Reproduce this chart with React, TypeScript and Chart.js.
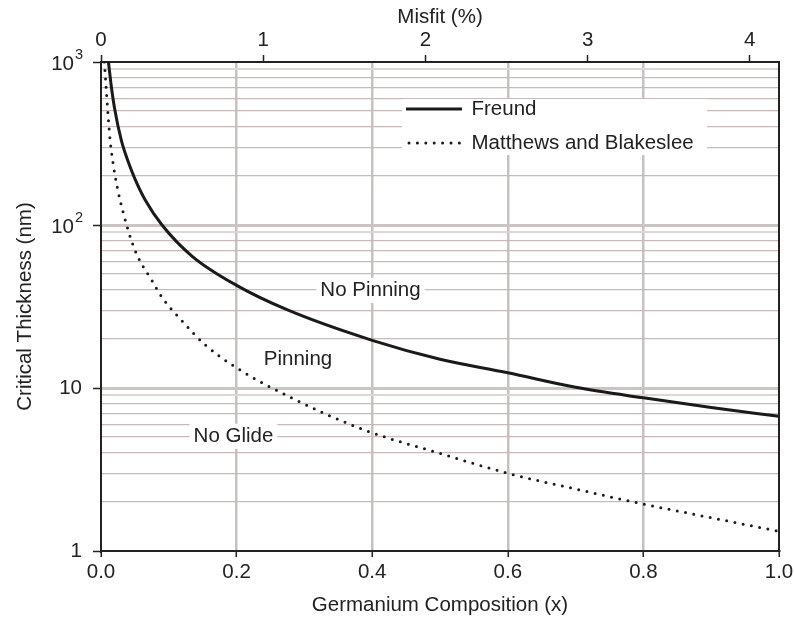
import React, { useEffect, useRef } from "react";
import { Chart, registerables } from "chart.js";

Chart.register(...registerables);

// ---- data ----
const freundX = [0.011, 0.015, 0.02, 0.03, 0.04, 0.05, 0.065, 0.09, 0.135, 0.2, 0.276, 0.4, 0.5, 0.6, 0.7, 0.8, 0.9, 1.0];
const freundY = [1000, 720, 520, 330, 245, 192, 143, 100, 64, 42.6, 30, 19.6, 15.0, 12.4, 10.1, 8.7, 7.6, 6.7];

const mbX = [0.005, 0.0075, 0.011, 0.0135, 0.019, 0.0255, 0.034, 0.045, 0.055, 0.075, 0.09, 0.12, 0.153, 0.2, 0.286, 0.39, 0.5, 0.6, 0.7, 0.8, 0.9, 1.0];
const mbY = [1000, 700, 440, 330, 222, 159, 114, 80, 63, 45.7, 36, 25.7, 18.5, 13.3, 8.5, 5.5, 3.97, 3.0, 2.4, 1.94, 1.6, 1.32];

const seriesNames = ["Freund", "Matthews and Blakeslee"];

const xTicks = [0, 0.2, 0.4, 0.6, 0.8, 1.0];
const misfitTicks = [0, 1, 2, 3, 4];
const misfitMax = 4.18;

const yMajorValues = [1, 10, 100, 1000];
const yLabelBase = ["1", "10", "10", "10"];
const yLabelExp = ["", "", "2", "3"];
const yGridValues: number[] = [];
[1, 10, 100].forEach((d) => {
  for (let m = 1; m <= 9; m++) yGridValues.push(d * m);
});
yGridValues.push(1000);

const regionLabels = ["No Pinning", "Pinning", "No Glide"];
const regionX = [0.3975, 0.2906, 0.1954];
const regionY = [39.7, 14.9, 5.06];
const regionBoxed = [true, false, true];

// ---- styles ----
const FONT = "'Liberation Sans', Arial, Helvetica, sans-serif";
const FS = 20.5;
const TEXT = "#222222";
const AXIS = "#222222";

Chart.defaults.font.family = FONT;
Chart.defaults.font.size = FS;
Chart.defaults.color = TEXT;

const isMajorY = (v: number) => yMajorValues.indexOf(v) >= 0;

const overlayPlugin = {
  id: "overlay",
  beforeDatasetsDraw(chart: any) {
    const { ctx, chartArea: a, scales } = chart;
    const sx = scales.x;
    const sy = scales.y;
    ctx.save();
    ctx.font = `${FS}px ${FONT}`;
    ctx.textBaseline = "middle";
    // region labels
    regionLabels.forEach((t, i) => {
      const px = sx.getPixelForValue(regionX[i]);
      const py = sy.getPixelForValue(regionY[i]);
      const w = ctx.measureText(t).width;
      if (regionBoxed[i]) {
        ctx.fillStyle = "#ffffff";
        ctx.fillRect(px - w / 2 - 4, py - 12.5, w + 8, 25);
      }
      ctx.fillStyle = TEXT;
      ctx.textAlign = "center";
      ctx.fillText(t, px, py);
    });
    // legend
    const lx = a.left + 301;
    const ly = a.top + 37;
    ctx.fillStyle = "#ffffff";
    ctx.fillRect(lx, ly, 305, 56);
    const rows = [ly + 10, ly + 44];
    chart.data.datasets.forEach((ds: any, i: number) => {
      const yy = rows[i];
      ctx.save();
      ctx.strokeStyle = ds.borderColor;
      ctx.lineWidth = ds.borderWidth;
      ctx.lineCap = ds.borderCapStyle || "butt";
      ctx.setLineDash(ds.borderDash || []);
      ctx.beginPath();
      ctx.moveTo(lx + (i === 0 ? 4 : 7), yy);
      ctx.lineTo(lx + 60, yy);
      ctx.stroke();
      ctx.restore();
      ctx.fillStyle = TEXT;
      ctx.textAlign = "left";
      ctx.fillText(seriesNames[i], lx + 69.5, yy);
    });
    ctx.restore();
  },
  afterDraw(chart: any) {
    const { ctx, chartArea: a, scales } = chart;
    ctx.save();
    // right frame
    ctx.strokeStyle = AXIS;
    ctx.lineWidth = 2;
    ctx.beginPath();
    ctx.moveTo(a.right, a.top - 1);
    ctx.lineTo(a.right, a.bottom + 1);
    ctx.stroke();
    // power-of-ten labels with superscript
    const sy = scales.y;
    const rightEdge = a.left - 18;
    yMajorValues.forEach((v, i) => {
      if (!yLabelExp[i]) return;
      const py = sy.getPixelForValue(v) + 2;
      ctx.fillStyle = TEXT;
      ctx.textBaseline = "middle";
      ctx.textAlign = "right";
      ctx.font = `14.5px ${FONT}`;
      const ew = ctx.measureText(yLabelExp[i]).width;
      ctx.fillText(yLabelExp[i], rightEdge, py - 9);
      ctx.font = `${FS}px ${FONT}`;
      ctx.fillText(yLabelBase[i], rightEdge - ew - 1, py);
    });
    ctx.restore();
  },
};

export default function App() {
  const ref = useRef<HTMLCanvasElement>(null);

  useEffect(() => {
    document.body.style.margin = "0";
    const freundData = freundX.map((x, i) => ({ x, y: freundY[i] }));
    const mbData = mbX.map((x, i) => ({ x, y: mbY[i] }));

    const chart = new Chart(ref.current as HTMLCanvasElement, {
      type: "line",
      data: {
        datasets: [
          {
            label: seriesNames[0],
            data: freundData,
            borderColor: "#1a1a1a",
            borderWidth: 3,
            pointRadius: 0,
            fill: false,
            cubicInterpolationMode: "monotone",
            xAxisID: "x",
            yAxisID: "y",
          },
          {
            label: seriesNames[1],
            data: mbData,
            borderColor: "#1a1a1a",
            borderWidth: 3,
            borderDash: [0, 8.4],
            borderCapStyle: "round",
            pointRadius: 0,
            fill: false,
            cubicInterpolationMode: "monotone",
            xAxisID: "x",
            yAxisID: "y",
          },
        ] as any,
      },
      options: {
        responsive: false,
        animation: false,
        devicePixelRatio: 1,
        layout: { padding: { left: 0, right: 15, top: 0, bottom: 0 } },
        plugins: {
          legend: { display: false },
          tooltip: { enabled: false },
        },
        scales: {
          x: {
            type: "linear",
            position: "bottom",
            min: 0,
            max: 1,
            afterBuildTicks: (s: any) => {
              s.ticks = xTicks.map((v) => ({ value: v }));
            },
            afterFit: (s: any) => {
              s.height = 71;
              s.paddingLeft = 0;
              s.paddingRight = 0;
            },
            ticks: {
              autoSkip: false,
              maxRotation: 0,
              padding: 3,
              color: TEXT,
              font: { size: FS },
              callback: (v: any) => Number(v).toFixed(1),
            },
            grid: {
              color: (c: any) =>
                c.tick && (c.tick.value === 0 || c.tick.value === 1) ? "rgba(0,0,0,0)" : "#c9c1c0",
              lineWidth: 2.5,
              tickLength: 6,
              tickColor: AXIS,
              tickWidth: 1.5,
            },
            border: { color: AXIS, width: 2 },
            title: {
              display: true,
              text: "Germanium Composition (x)",
              color: TEXT,
              font: { size: FS },
              padding: { top: 0, bottom: 4.7 },
            },
          },
          x2: {
            type: "linear",
            position: "top",
            min: 0,
            max: misfitMax,
            afterBuildTicks: (s: any) => {
              s.ticks = misfitTicks.map((v) => ({ value: v }));
            },
            afterFit: (s: any) => {
              s.height = 62;
              s.paddingLeft = 0;
              s.paddingRight = 0;
            },
            ticks: {
              autoSkip: false,
              maxRotation: 0,
              padding: 2,
              color: TEXT,
              font: { size: FS },
              callback: (v: any) => String(v),
            },
            grid: {
              drawOnChartArea: false,
              tickLength: 7,
              tickColor: AXIS,
              tickWidth: 1.5,
            },
            border: { color: AXIS, width: 2 },
            title: {
              display: true,
              text: "Misfit (%)",
              color: TEXT,
              font: { size: FS },
              padding: { top: 4.7, bottom: 0 },
            },
          },
          y: {
            type: "logarithmic",
            position: "left",
            min: 1,
            max: 1000,
            afterBuildTicks: (s: any) => {
              s.ticks = yGridValues.map((v) => ({ value: v, major: false }));
            },
            afterFit: (s: any) => {
              s.width = 101;
              s.paddingTop = 0;
              s.paddingBottom = 0;
            },
            ticks: {
              autoSkip: false,
              padding: 11,
              color: TEXT,
              font: { size: FS },
              callback: (v: any) => {
                const i = yMajorValues.indexOf(Number(v));
                return i >= 0 && !yLabelExp[i] ? yLabelBase[i] : "";
              },
            },
            grid: {
              color: (c: any) => {
                const v = c.tick ? c.tick.value : 0;
                if (v === 1 || v === 1000) return "rgba(0,0,0,0)";
                if (isMajorY(v)) return "#cbc4c2";
                if (v === 9 || v === 90 || v === 900) return "#dcd6d5";
                return "#c6baba";
              },
              lineWidth: (c: any) => {
                const v = c.tick ? c.tick.value : 0;
                if (isMajorY(v)) return 3;
                if (v === 9 || v === 90 || v === 900) return 2;
                return 1.2;
              },
              tickLength: 8,
              tickColor: (c: any) => (c.tick && isMajorY(c.tick.value) ? AXIS : "rgba(0,0,0,0)"),
              tickWidth: 1.5,
            },
            border: { color: AXIS, width: 2 },
            title: {
              display: true,
              text: "Critical Thickness (nm)",
              color: TEXT,
              font: { size: FS },
              padding: { top: 12.7, bottom: 0 },
            },
          },
        },
      } as any,
      plugins: [overlayPlugin],
    });
    return () => chart.destroy();
  }, []);

  return <canvas ref={ref} width={794} height={622} style={{ display: "block" }} />;
}
